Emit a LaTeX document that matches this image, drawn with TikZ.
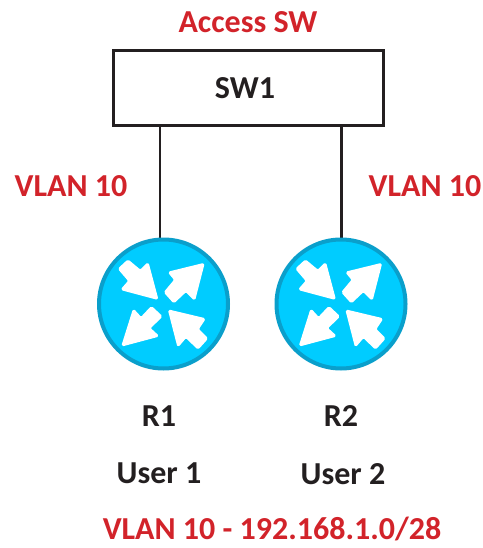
\documentclass[tikz,border=0pt]{standalone}
\usepackage{fontspec}
\setmainfont{Carlito}
\definecolor{lblred}{HTML}{D2232A}
\definecolor{ink}{HTML}{231F20}
\definecolor{rfill}{HTML}{00CCFF}
\definecolor{rline}{HTML}{0A9FCB}
\tikzset{
  x=1pt,y=-1pt,
  redlbl/.style={text=lblred,font=\fontsize{32}{36}\selectfont\bfseries,inner sep=0pt},
  blklbl/.style={text=ink,font=\fontsize{32}{36}\selectfont\bfseries,inner sep=0pt},
  swbox/.style={draw=ink,line width=3pt,minimum width=270pt,minimum height=75pt,inner sep=0pt,fill=white},
  routercirc/.style={circle,draw=rline,line width=4pt,fill=rfill,minimum size=129pt,inner sep=0pt},
  wire/.style={draw=ink,line width=2.4pt},
  rarrow/.style={fill=white,draw=white,line width=1.4pt,line join=round,rounded corners=1.4pt},
  pics/routerarrows/.style={code={
    \begin{scope}[x=0.345pt,y=-0.345pt,shift={(-235,-222)}]
      \filldraw[rarrow] (218,208)--(190,103)--(168,125)--(132,95)--(105,120)--(135,155)--(113,180)--cycle;
      \filldraw[rarrow] (352,105)--(250,130)--(268,152)--(238,188)--(265,218)--(300,185)--(325,210)--cycle;
      \filldraw[rarrow] (115,343)--(148,238)--(170,262)--(200,230)--(230,258)--(195,292)--(220,315)--cycle;
      \filldraw[rarrow] (250,240)--(355,265)--(335,295)--(362,322)--(335,352)--(300,318)--(277,345)--cycle;
    \end{scope}
  }}
}
\begin{document}
\begin{tikzpicture}
\useasboundingbox (0,0) rectangle (482,548);
\node[swbox] (sw) at (248.5,88) {};
\node[blklbl] (swl) at (245,88) {SW1};
\coordinate (l1) at (160,245);
\coordinate (l2) at (341.5,245);
\draw[wire] (sw.south -| l1) -- (l1);
\draw[wire] (sw.south -| l2) -- (l2);
\node[routercirc] (r1) at (163.5,304) {};
\node[routercirc] (r2) at (341,304) {};
\pic at (r1.center) {routerarrows};
\pic at (r2.center) {routerarrows};
\node[redlbl] (t1) at (248,22) {Access SW};
\node[redlbl] (t2) at (71,186) {VLAN 10};
\node[redlbl] (t3) at (425,186) {VLAN 10};
\node[blklbl] (t4) at (159,416) {R1};
\node[blklbl] (t5) at (341,416) {R2};
\node[blklbl] (t6) at (159,473) {User 1};
\node[blklbl] (t7) at (343,474) {User 2};
\node[redlbl] (t8) at (272,528.5) {VLAN 10 - 192.168.1.0/28};
\end{tikzpicture}
\end{document}
